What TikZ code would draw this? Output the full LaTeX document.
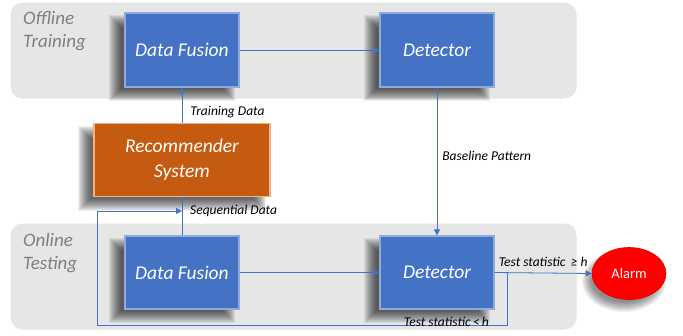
\documentclass[tikz,border=0pt]{standalone}
\usepackage{fontspec}
\setmainfont{Carlito}
\usetikzlibrary{arrows.meta,shapes.geometric}
\definecolor{panelgray}{HTML}{E6E6E6}
\definecolor{boxblue}{HTML}{4472C4}
\definecolor{boxedge}{HTML}{8FAADC}
\definecolor{recorange}{HTML}{C55A11}
\definecolor{recedge}{HTML}{F4B183}
\definecolor{linkblue}{HTML}{4472C4}
\definecolor{labgray}{HTML}{7F7F7F}
\newcommand\softshadow[4]{% cx cy w h
  \foreach \k in {-6,...,6}{
    \fill[black, opacity=0.065] ({#1-10-#3/2+\k},{#2+8-#4/2+\k}) rectangle ({#1-10+#3/2-\k},{#2+8+#4/2-\k});
  }}
\tikzset{
  panel/.style={draw=white, line width=1pt, fill=panelgray, rounded corners=12pt, minimum width=567pt, minimum height=#1, inner sep=0pt},
  bluebox/.style={draw=boxedge, line width=1.2pt, fill=boxblue, minimum width=114pt, minimum height=74pt, inner sep=0pt, text=white, font=\fontsize{19.5}{21}\selectfont\itshape},
  recbox/.style={draw=recedge, line width=1.2pt, fill=recorange, minimum width=176pt, minimum height=73pt, inner sep=0pt, text=white, align=center, font=\fontsize{19.5}{25}\selectfont\itshape},
  alarmnode/.style={ellipse, fill=red, draw=red!85!black, line width=0.6pt, minimum width=74pt, minimum height=52pt, inner sep=0pt, text=white, font=\fontsize{14.5}{16}\selectfont},
  paneltitle/.style={text=labgray, align=left, anchor=north west, inner sep=0pt, font=\fontsize{19}{23}\selectfont\itshape},
  lab/.style={font=\fontsize{13.5}{15}\selectfont\itshape, inner sep=0pt, text=black},
  link/.style={draw=linkblue, line width=0.8pt, -{Triangle[length=6pt,width=6pt]}},
  plainlink/.style={draw=linkblue, line width=0.8pt},
}
\begin{document}
\begin{tikzpicture}[x=1pt,y=-1pt]
\useasboundingbox (0,0) rectangle (683,335);
% panels
\node[panel=97pt] (toppanel) at (293.5,50.5) {};
\node[panel=107pt] (botpanel) at (293.5,276.5) {};
\node[paneltitle] (offl) at (23,11) {Offline\\Training};
\node[paneltitle] (onl) at (23,233) {Online\\Testing};
% soft shadows
\softshadow{182}{50}{114}{74}
\softshadow{437}{50}{114}{74}
\softshadow{182}{160}{176}{73}
\softshadow{182}{272.5}{114}{73}
\softshadow{437}{272.5}{114}{73}
\foreach \k in {-5,...,5}{
  \fill[black, opacity=0.05] (624,281) ellipse ({37-\k} and {26-\k});
}
% boxes
\node[bluebox] (df1) at (182,50) {Data Fusion};
\node[bluebox] (det1) at (437,50) {Detector};
\node[recbox] (rec) at (182,160) {Recommender\\System};
\node[bluebox, minimum height=73pt] (df2) at (182,272.5) {Data Fusion};
\node[bluebox, minimum height=73pt] (det2) at (437,272.5) {Detector};
\node[alarmnode] (alarm) at (629,273.5) {Alarm};
% connectors
\draw[link] (df1.east) -- (det1.west);
\draw[link] (rec.north) -- (df1.south) node[lab, pos=0.32, anchor=west, xshift=8pt] {Training Data};
\draw[link] (det1.south) -- (det2.north) node[lab, pos=0.46, anchor=west, xshift=5pt] {Baseline Pattern};
\draw[plainlink] (df2.north) -- (rec.south);
\draw[link] (df2.east) -- (det2.west);
\coordinate (split) at (507,272.5);
\coordinate (lowright) at (507,325);
\coordinate (lowleft) at (97,325);
\coordinate (upleft) at (97,211);
\coordinate (seqin) at (182,211);
\draw[link] (det2.east) -- (alarm.west) node[lab, midway, above=6pt] {Test statistic\, ≥ h};
\draw[link] (split) -- (lowright) -- (lowleft) -- (upleft) -- (seqin);
\node[lab, anchor=west] (seqlab) at (190,211) {Sequential Data};
\node[lab, anchor=south east] (ltlab) at (489,327) {Test statistic\,<\,h};
\end{tikzpicture}
\end{document}
